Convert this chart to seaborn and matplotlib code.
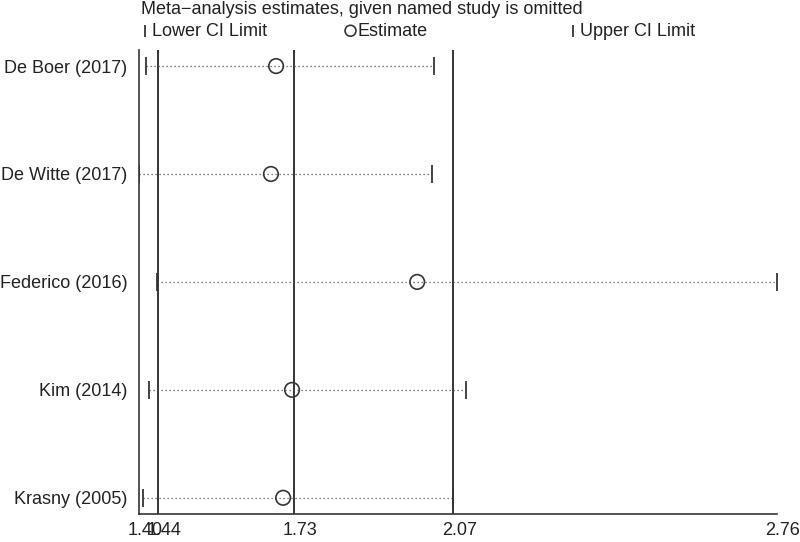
import matplotlib
matplotlib.use("Agg")
import matplotlib.pyplot as plt
import matplotlib.transforms as mtransforms
import seaborn as sns
import pandas as pd

studies = ["De Boer (2017)", "De Witte (2017)", "Federico (2016)", "Kim (2014)", "Krasny (2005)"]
lower = [1.415, 1.400, 1.438, 1.421, 1.409]
estimate = [1.692, 1.681, 1.993, 1.726, 1.707]
upper = [2.029, 2.025, 2.760, 2.097, 2.069]
overall = [1.44, 1.73, 2.07]
xticks = [1.40, 1.44, 1.73, 2.07, 2.76]
xticklabels = ["1.40", "1.44", "1.73", "2.07", "2.76"]

sns.set_theme(style="white")
plt.rcParams["font.family"] = ["Liberation Sans", "DejaVu Sans"]

df = pd.DataFrame({"study": studies, "lower": lower, "estimate": estimate, "upper": upper})
df["pos"] = range(len(df))

fig = plt.figure(figsize=(8, 5.42), dpi=100)
ax = fig.add_axes([0.174, 0.0517, 0.797, 0.8563])

dark = "#353535"

for v in overall:
    ax.axvline(v, color=dark, lw=1.4, zorder=1)

ax.hlines(df["pos"], df["lower"], df["upper"], colors="#555555", lw=0.9,
          linestyles=(0, (1, 2.2)), zorder=2)

sns.scatterplot(data=df, x="lower", y="pos", marker="|", s=150, color=dark,
                linewidth=1.3, ax=ax, zorder=3, label="Lower CI Limit", legend=False)
sns.scatterplot(data=df, x="estimate", y="pos", marker="o", s=110, facecolor="none",
                edgecolor=dark, linewidth=1.2, ax=ax, zorder=4, label="Estimate", legend=False)
sns.scatterplot(data=df, x="upper", y="pos", marker="|", s=150, color=dark,
                linewidth=1.3, ax=ax, zorder=3, label="Upper CI Limit", legend=False)

ax.set_xlim(1.40, 2.76)
ax.set_ylim(4.15, -0.15)
ax.set_yticks(df["pos"])
ax.set_yticklabels(studies, fontsize=13)
ax.set_xticks(xticks)
ax.set_xticklabels(xticklabels, fontsize=13)
ax.set_xlabel("")
ax.set_ylabel("")

for s in ["top", "right"]:
    ax.spines[s].set_visible(False)
for s in ["left", "bottom"]:
    ax.spines[s].set_color(dark)
    ax.spines[s].set_linewidth(1.2)

ax.tick_params(axis="y", length=0, pad=8.5, colors="#222222")
ax.tick_params(axis="x", direction="out", length=6, width=1.1, color=dark,
               pad=0, labelcolor="#222222")
offset = mtransforms.ScaledTranslation(6 / 100, 0, fig.dpi_scale_trans)
for lab in ax.get_xticklabels():
    lab.set_transform(lab.get_transform() + offset)

fig.text(0.176, 0.982, "Meta\u2212analysis estimates, given named study is omitted",
         fontsize=13, color="#222222", ha="left", va="center")

handles = ax.collections[1:4]
labels = ["Lower CI Limit", "Estimate", "Upper CI Limit"]
xs = [140.5, 346.0, 568.5]
for h, l, x in zip(handles, labels, xs):
    fig.legend(handles=[h], labels=[l], loc="center left",
               bbox_to_anchor=(x / 800, 1 - 31 / 542), frameon=False,
               fontsize=13, handlelength=0.5, handletextpad=0.15,
               borderpad=0, borderaxespad=0, markerscale=0.75,
               labelcolor="#222222")

fig.savefig("out.png", dpi=100)
